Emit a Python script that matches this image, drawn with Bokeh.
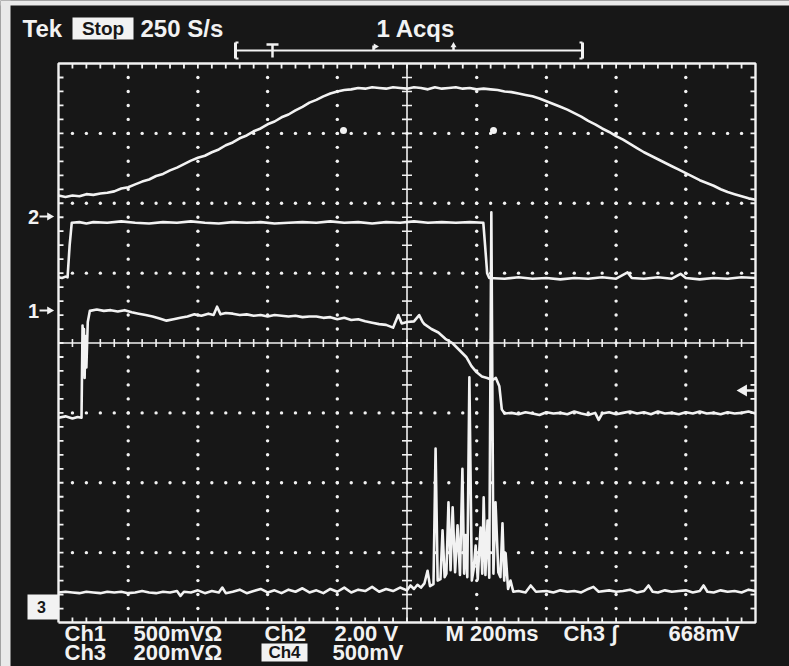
import numpy as np
from bokeh.plotting import figure
from bokeh.models import Range1d
from bokeh.embed import file_html
from bokeh.resources import INLINE
from bokeh.core.properties import value

# ---------------- data (time in ms, level in divisions, 0 = centre line) ----------------
ch4_t = [0, 20, 40, 60, 80, 100, 120, 140, 160, 180, 200, 220, 240, 260, 280, 300, 320, 340, 360, 380,
         400, 420, 440, 460, 480, 500, 520, 540, 560, 580, 600, 620, 640, 660, 680, 700, 720, 740, 760, 780,
         800, 820, 840, 860, 880, 900, 920, 940, 960, 980, 1000, 1020, 1040, 1060, 1080, 1100, 1120, 1140,
         1160, 1180, 1200, 1220, 1240, 1260, 1280, 1300, 1320, 1340, 1360, 1380, 1400, 1420, 1440, 1460,
         1480, 1500, 1520, 1540, 1560, 1580, 1600, 1620, 1640, 1660, 1680, 1700, 1720, 1740, 1760, 1780,
         1800, 1820, 1840, 1860, 1880, 1900, 1920, 1940, 1960, 1980, 2000]
ch4_v = [2.11, 2.09, 2.11, 2.10, 2.13, 2.12, 2.14, 2.15, 2.17, 2.21, 2.23, 2.27, 2.31, 2.34, 2.39, 2.42,
         2.47, 2.51, 2.56, 2.61, 2.65, 2.68, 2.73, 2.77, 2.83, 2.87, 2.93, 2.97, 3.03, 3.07, 3.13, 3.17,
         3.23, 3.27, 3.33, 3.38, 3.44, 3.48, 3.53, 3.57, 3.60, 3.62, 3.63, 3.65, 3.64, 3.66, 3.65, 3.64,
         3.66, 3.65, 3.64, 3.66, 3.65, 3.63, 3.66, 3.64, 3.65, 3.66, 3.64, 3.65, 3.63, 3.64, 3.63, 3.62,
         3.60, 3.59, 3.57, 3.55, 3.53, 3.50, 3.46, 3.42, 3.38, 3.34, 3.29, 3.24, 3.18, 3.13, 3.07, 3.02,
         2.96, 2.91, 2.85, 2.79, 2.73, 2.68, 2.63, 2.58, 2.53, 2.48, 2.43, 2.38, 2.33, 2.29, 2.25, 2.20,
         2.16, 2.13, 2.10, 2.07, 2.05]

ch2_t = [0, 10, 20, 26, 32, 38, 60, 80, 100, 140, 180, 220, 260, 300, 340, 380, 420, 460, 500, 540, 580,
         620, 660, 700, 740, 780, 820, 860, 900, 940, 980, 1020, 1060, 1100, 1140, 1180, 1219, 1224, 1230,
         1236, 1280, 1320, 1360, 1400, 1440, 1480, 1520, 1560, 1600, 1633, 1645, 1680, 1720, 1760, 1785,
         1800, 1840, 1880, 1920, 1960, 2000]
ch2_v = [0.94, 0.93, 0.95, 0.94, 1.40, 1.72, 1.73, 1.71, 1.73, 1.72, 1.74, 1.72, 1.71, 1.73, 1.72, 1.74,
         1.72, 1.71, 1.73, 1.72, 1.73, 1.71, 1.72, 1.73, 1.72, 1.74, 1.72, 1.73, 1.71, 1.73, 1.72, 1.74,
         1.72, 1.73, 1.72, 1.73, 1.72, 1.40, 1.00, 0.93, 0.92, 0.94, 0.92, 0.93, 0.91, 0.93, 0.92, 0.94,
         0.92, 1.01, 0.93, 0.92, 0.94, 0.92, 0.99, 0.93, 0.91, 0.93, 0.92, 0.94, 0.93]

ch1_t = [0, 20, 40, 55, 66, 69, 71, 73, 75, 77, 80, 84, 90, 110, 130, 150, 170, 190, 210, 230, 250, 270,
         290, 310, 330, 350, 370, 390, 410, 430, 445, 455, 465, 480, 500, 520, 540, 560, 580, 600, 620, 640,
         660, 680, 700, 720, 740, 760, 780, 800, 820, 840, 860, 880, 900, 920, 940, 960, 975, 985, 1000,
         1020, 1035, 1045, 1050, 1070, 1090, 1110, 1130, 1150, 1170, 1185, 1200, 1215, 1230, 1245, 1255,
         1265, 1272, 1280, 1300, 1320, 1340, 1360, 1380, 1400, 1420, 1440, 1460, 1480, 1500, 1520, 1540,
         1550, 1560, 1580, 1600, 1620, 1640, 1660, 1680, 1700, 1720, 1740, 1760, 1780, 1800, 1820, 1840,
         1860, 1880, 1900, 1920, 1940, 1960, 1980, 2000]
ch1_v = [-1.07, -1.05, -1.08, -1.06, -1.07, 0.25, -0.40, 0.20, -0.50, 0.10, -0.35, 0.30, 0.46, 0.48, 0.46,
         0.47, 0.45, 0.47, 0.44, 0.42, 0.40, 0.38, 0.35, 0.32, 0.34, 0.36, 0.38, 0.41, 0.39, 0.42, 0.40,
         0.52, 0.41, 0.43, 0.42, 0.40, 0.41, 0.39, 0.40, 0.38, 0.40, 0.39, 0.38, 0.39, 0.37, 0.38, 0.38,
         0.36, 0.37, 0.34, 0.36, 0.33, 0.34, 0.31, 0.29, 0.27, 0.26, 0.22, 0.40, 0.28, 0.30, 0.31, 0.40,
         0.30, 0.27, 0.20, 0.15, 0.06, 0.00, -0.10, -0.20, -0.33, -0.42, -0.48, -0.50, -0.53, -0.50, -0.62,
         -0.95, -1.01, -1.00, -1.02, -0.99, -1.01, -1.03, -0.99, -1.01, -1.00, -1.02, -0.98, -1.01, -1.03,
         -1.00, -1.10, -1.01, -0.99, -1.02, -1.00, -0.98, -1.01, -0.99, -1.02, -0.98, -1.01, -1.00, -1.02,
         -0.99, -1.01, -0.98, -1.01, -1.00, -1.02, -0.99, -1.01, -1.00, -0.98, -1.01]

ch3_t = [0, 20, 40, 60, 80, 100, 120, 140, 160, 180, 200, 220, 240, 260, 280, 300, 320, 340, 350, 360, 380,
         400, 420, 440, 460, 470, 480, 500, 520, 540, 560, 580, 600, 620, 640, 660, 680, 700, 720, 740,
         760, 780, 800, 820, 840, 860, 880, 900, 920, 940, 960, 980, 1000, 1010, 1020, 1030, 1040, 1050,
         1059, 1066, 1076, 1082, 1088, 1096, 1102, 1108, 1113, 1119, 1125, 1131, 1138, 1145, 1152, 1159,
         1164, 1168, 1173, 1179, 1186, 1191, 1197, 1203, 1211, 1216, 1220, 1225, 1231, 1236, 1242, 1248,
         1254, 1262, 1268, 1274, 1279, 1283, 1290, 1297, 1305, 1320, 1340, 1355, 1370, 1400, 1420, 1440,
         1460, 1480, 1500, 1520, 1535, 1550, 1580, 1600, 1620, 1640, 1660, 1680, 1693, 1705, 1720, 1740,
         1760, 1780, 1800, 1820, 1840, 1851, 1862, 1880, 1900, 1920, 1940, 1960, 1980, 2000]
ch3_v = [-3.57, -3.56, -3.57, -3.58, -3.56, -3.57, -3.58, -3.56, -3.57, -3.56, -3.58, -3.57, -3.55, -3.57,
         -3.58, -3.56, -3.57, -3.55, -3.62, -3.56, -3.57, -3.54, -3.58, -3.55, -3.57, -3.50, -3.58, -3.56,
         -3.53, -3.58, -3.55, -3.52, -3.57, -3.54, -3.58, -3.53, -3.56, -3.51, -3.57, -3.54, -3.58, -3.52,
         -3.56, -3.50, -3.57, -3.53, -3.55, -3.49, -3.56, -3.52, -3.55, -3.50, -3.54, -3.47, -3.52, -3.46,
         -3.50, -3.44, -3.26, -3.48, -3.45, -1.51, -3.40, -3.38, -2.68, -3.35, -3.30, -2.28, -3.25, -2.35,
         -3.28, -2.61, -3.32, -1.80, -3.30, -2.75, -3.35, -0.49, -3.40, -3.25, -2.90, -3.38, -2.64, -3.30,
         -2.21, -3.32, -2.54, -3.36, 1.87, -3.30, -2.28, -3.28, -3.35, -2.58, -3.40, -3.01, -3.52, -3.40,
         -3.56, -3.55, -3.57, -3.47, -3.56, -3.55, -3.57, -3.54, -3.56, -3.55, -3.57, -3.52, -3.49, -3.56,
         -3.54, -3.56, -3.55, -3.53, -3.57, -3.55, -3.47, -3.56, -3.57, -3.54, -3.56, -3.55, -3.54, -3.57,
         -3.55, -3.47, -3.56, -3.57, -3.54, -3.56, -3.55, -3.57, -3.53, -3.55]

header_texts = ["Tek", "Stop", "250 S/s", "1 Acqs"]
footer_row1 = ["Ch1", "500mVΩ", "Ch2", "2.00 V", "M 200ms", "Ch3 ∫", "668mV"]
footer_row2 = ["Ch3", "200mVΩ", "Ch4", "500mV"]
ground_labels = ["2", "1", "3"]

# ---------------- geometry ----------------
W, H = 789, 666
OFF = 0
GL, GR, GT, GB = 58, 755, 63, 622          # graticule edges in reference pixels
XMS_PER_PX = 2000.0 / (GR - GL)
YDIV_PER_PX = 8.0 / (GB - GT)
YC = (GT + GB) / 2.0


def X(px):
    return (px - GL) * XMS_PER_PX


def Y(py):
    return (YC - py) * YDIV_PER_PX


BG = "#171717"
FG = "#f2f2f2"
FONT = value("Liberation Sans")

p = figure(width=W, height=H, output_backend="svg", toolbar_location=None,
           x_range=Range1d(X(OFF), X(OFF + W)), y_range=Range1d(Y(OFF + H), Y(OFF)),
           x_axis_location=None, y_axis_location=None, min_border=0,
           background_fill_color=BG, border_fill_color=BG, outline_line_color=None)
p.grid.visible = False

# light photo margin at the left and top
p.quad(left=X(0), right=X(10), top=Y(0), bottom=Y(H), fill_color="#e9e9e9", line_color=None)
p.quad(left=X(0), right=X(W), top=Y(0), bottom=Y(5), fill_color="#e9e9e9", line_color=None)

# ---------------- graticule ----------------
dx, dy = [], []
for k in range(1, 10):
    if k == 5:
        continue
    for j in range(1, 40):
        dx.append(k * 200.0)
        dy.append(-4 + 0.2 * j)
for k in range(-3, 4):
    if k == 0:
        continue
    for i in range(1, 50):
        dx.append(40.0 * i)
        dy.append(float(k))
p.scatter(dx, dy, size=3.4, color=FG, line_color=None)

# frame
p.line([0, 2000, 2000, 0, 0], [-4, -4, 4, 4, -4], line_color=FG, line_width=2.4)
tl = 5 * YDIV_PER_PX
tlx = 5 * XMS_PER_PX
xs = np.arange(1, 50) * 40.0
ys = -4 + np.arange(1, 40) * 0.2
p.segment(xs, 4, xs, 4 - tl, line_color=FG, line_width=1.8)
p.segment(xs, -4, xs, -4 + tl, line_color=FG, line_width=1.8)
p.segment(0, ys, tlx, ys, line_color=FG, line_width=1.8)
p.segment(2000, ys, 2000 - tlx, ys, line_color=FG, line_width=1.8)

# centre crosshair with minor ticks
p.segment(0, 0, 2000, 0, line_color=FG, line_width=1.6)
p.segment(1000, -4, 1000, 4, line_color=FG, line_width=1.6)
h = 4 * YDIV_PER_PX
hx = 5 * XMS_PER_PX
p.segment(xs, -h, xs, h, line_color=FG, line_width=1.6)
p.segment(1000 - hx, ys, 1000 + hx, ys, line_color=FG, line_width=1.6)

# cursor dots
p.scatter([X(343), X(493)], [Y(130), Y(130)], size=7, color=FG, line_color=None)

# ---------------- traces ----------------
for t, v in [(ch4_t, ch4_v), (ch2_t, ch2_v), (ch1_t, ch1_v), (ch3_t, ch3_v)]:
    p.line(t, v, line_color=FG, line_width=2.6, line_join="round")

# ---------------- ground markers ----------------
p.text([X(33), X(33)], [Y(216), Y(310)], text=ground_labels[:2], text_font=FONT,
       text_font_style="bold", text_font_size="20px", text_color=FG,
       text_align="center", text_baseline="middle")
p.segment([X(39), X(39)], [Y(216), Y(310)], [X(48), X(48)], [Y(216), Y(310)],
          line_color=FG, line_width=2)
p.scatter([X(49), X(49)], [Y(216), Y(310)], marker="triangle", angle=-np.pi / 2,
          size=8, color=FG, line_color=None)
p.quad(left=X(27), right=X(58), top=Y(594), bottom=Y(619), fill_color=FG, line_color=None)
p.text([X(41)], [Y(606)], text=[ground_labels[2]], text_font=FONT, text_font_style="bold",
       text_font_size="16px", text_color=BG, text_align="center", text_baseline="middle")

# trigger level marker on right
p.scatter([X(743)], [Y(390)], marker="triangle", angle=np.pi / 2, size=12, color=FG, line_color=None)
p.segment(X(743), Y(390), X(754), Y(390), line_color=FG, line_width=2.5)

# ---------------- header ----------------
p.text([X(22)], [Y(28)], text=[header_texts[0]], text_font=FONT, text_font_style="bold",
       text_font_size="24px", text_color=FG, text_align="left", text_baseline="middle")
p.quad(left=X(72), right=X(133), top=Y(17), bottom=Y(39), fill_color=FG, line_color=None)
p.text([X(102.5)], [Y(28)], text=[header_texts[1]], text_font=FONT, text_font_style="bold",
       text_font_size="19px", text_color=BG, text_align="center", text_baseline="middle")
p.text([X(140), X(376)], [Y(28), Y(28)], text=header_texts[2:], text_font=FONT,
       text_font_style="bold", text_font_size="24px", text_color=FG,
       text_align="left", text_baseline="middle")
# record-length bar
p.segment(X(235), Y(50), X(582), Y(50), line_color=FG, line_width=2)
p.segment([X(235), X(582)], [Y(42), Y(42)], [X(235), X(582)], [Y(58), Y(58)],
          line_color=FG, line_width=3)
p.segment([X(235), X(235), X(579), X(579)], [Y(42), Y(58), Y(42), Y(58)],
          [X(238), X(238), X(582), X(582)], [Y(42), Y(58), Y(42), Y(58)], line_color=FG, line_width=2)
p.segment(X(272), Y(44), X(272), Y(57), line_color=FG, line_width=2.5)
p.segment(X(266), Y(44), X(278), Y(44), line_color=FG, line_width=2.5)
p.segment([X(373), X(453)], [Y(45), Y(45)], [X(373), X(453)], [Y(50), Y(50)],
          line_color=FG, line_width=2.5)
p.scatter([X(375)], [Y(46)], marker="triangle", angle=-np.pi / 2, size=6, color=FG, line_color=None)
p.scatter([X(453)], [Y(45)], marker="triangle", size=6, color=FG, line_color=None)

# ---------------- footer ----------------
row1_x = [64, 133, 264, 334, 445, 563, 668]
p.text([X(v) for v in row1_x], [Y(633)] * len(row1_x), text=footer_row1, text_font=FONT,
       text_font_style="bold", text_font_size="22px", text_color=FG,
       text_align="left", text_baseline="middle")
p.quad(left=X(261), right=X(307), top=Y(643), bottom=Y(661), fill_color=FG, line_color=None)
row2_x = [64, 133, 332]
p.text([X(v) for v in row2_x], [Y(652)] * 3, text=[footer_row2[0], footer_row2[1], footer_row2[3]],
       text_font=FONT, text_font_style="bold", text_font_size="22px", text_color=FG,
       text_align="left", text_baseline="middle")
p.text([X(284)], [Y(652)], text=[footer_row2[2]], text_font=FONT, text_font_style="bold",
       text_font_size="17px", text_color=BG, text_align="center", text_baseline="middle")

open("out.html", "w").write(file_html(p, INLINE))
